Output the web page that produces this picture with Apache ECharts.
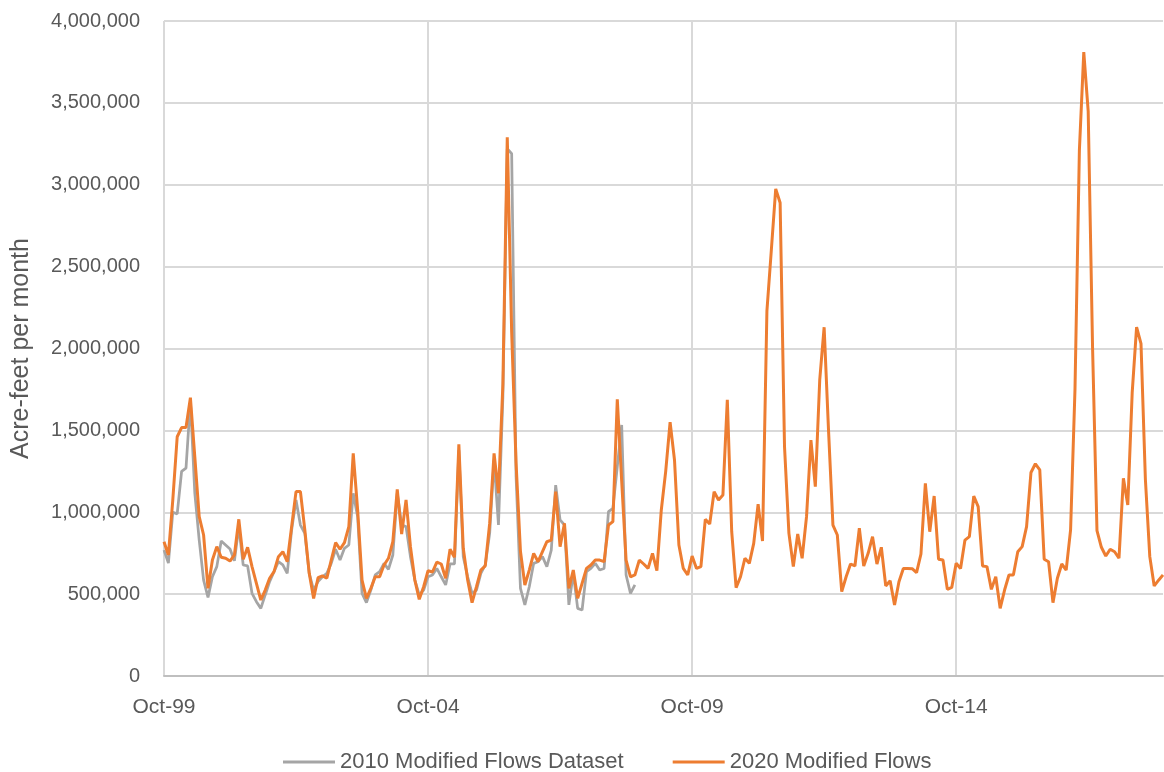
<!DOCTYPE html>
<html><head><meta charset="utf-8">
<script src="https://cdn.jsdelivr.net/npm/echarts@6/dist/echarts.min.js"></script>
<style>html,body{margin:0;padding:0;background:#fff}#c{width:1164px;height:772px}</style>
</head><body><div id="c"></div>
<script>
// Monthly categories Oct-1999 .. Sep-2018
const monthNames = ['Jan','Feb','Mar','Apr','May','Jun','Jul','Aug','Sep','Oct','Nov','Dec'];
const startYear = 1999, startMonth = 9, monthCount = 228;
const categories = [];
for (let i = 0; i < monthCount; i++) {
  const m = (startMonth + i) % 12, y = startYear + Math.floor((startMonth + i) / 12);
  categories.push(monthNames[m] + '-' + String(y % 100).padStart(2, '0'));
}
const tickLabels = ['Oct-99', 'Oct-04', 'Oct-09', 'Oct-14'];
const yTicks = [0, 500000, 1000000, 1500000, 2000000, 2500000, 3000000, 3500000, 4000000];

// 2010 Modified Flows Dataset (acre-feet per month), Oct-99 .. Sep-08
const flows2010 = [
  769000, 690000, 1000000, 990000, 1250000, 1270000, 1680000, 1117000, 830000, 586000,
  480000, 606000, 668000, 824000, 800000, 776000, 704000, 912000, 678000, 672000,
  505000, 454000, 413000, 495000, 576000, 637000, 698000, 678000, 627000, 892000,
  1075000, 922000, 871000, 627000, 525000, 576000, 606000, 627000, 688000, 774000,
  708000, 780000, 800000, 1116000, 973000, 505000, 448000, 525000, 617000, 637000,
  688000, 651000, 739000, 1116000, 922000, 912000, 729000, 586000, 495000, 525000,
  606000, 617000, 657000, 606000, 556000, 684000, 684000, 1380000, 729000, 606000,
  505000, 525000, 627000, 678000, 871000, 1320000, 922000, 1700000, 3220000, 3190000,
  1217000, 535000, 434000, 545000, 688000, 698000, 729000, 668000, 769000, 1166000,
  953000, 922000, 434000, 627000, 413000, 403000, 637000, 657000, 688000, 647000,
  657000, 1004000, 1024000, 1278000, 1533000, 617000, 505000, 556000
];

// 2020 Modified Flows (acre-feet per month), Oct-99 .. Sep-18
const flows2020 = [
  820000, 739000, 1075000, 1461000, 1517000, 1517000, 1700000, 1339000, 973000, 861000,
  535000, 708000, 790000, 725000, 719000, 702000, 739000, 957000, 713000, 786000,
  668000, 566000, 464000, 525000, 597000, 637000, 729000, 759000, 698000, 912000,
  1126000, 1126000, 892000, 627000, 474000, 600000, 611000, 597000, 708000, 814000,
  774000, 814000, 912000, 1360000, 1014000, 586000, 474000, 535000, 606000, 606000,
  678000, 719000, 820000, 1140000, 867000, 1075000, 790000, 586000, 468000, 545000,
  643000, 635000, 696000, 684000, 597000, 774000, 725000, 1415000, 780000, 586000,
  448000, 545000, 647000, 672000, 932000, 1360000, 1116000, 1780000, 3290000, 2100000,
  1300000, 760000, 556000, 647000, 749000, 698000, 759000, 820000, 830000, 1126000,
  790000, 932000, 535000, 647000, 474000, 566000, 657000, 678000, 708000, 708000,
  698000, 922000, 943000, 1690000, 1190000, 708000, 606000, 617000, 708000, 684000,
  657000, 749000, 643000, 1014000, 1250000, 1550000, 1319000, 800000, 657000, 617000,
  733000, 657000, 668000, 957000, 928000, 1126000, 1075000, 1105000, 1686000, 881000,
  539000, 606000, 719000, 688000, 810000, 1050000, 824000, 2230000, 2600000, 2975000,
  2890000, 1400000, 871000, 668000, 867000, 719000, 973000, 1441000, 1156000, 1808000,
  2130000, 1500000, 922000, 861000, 515000, 606000, 684000, 672000, 902000, 672000,
  749000, 851000, 684000, 786000, 550000, 582000, 434000, 576000, 657000, 657000,
  655000, 631000, 745000, 1177000, 881000, 1099000, 713000, 708000, 529000, 541000,
  688000, 657000, 830000, 851000, 1099000, 1034000, 672000, 668000, 529000, 606000,
  413000, 525000, 617000, 617000, 759000, 790000, 912000, 1243000, 1296000, 1259000,
  713000, 698000, 448000, 597000, 684000, 647000, 892000, 1750000, 3210000, 3810000,
  3450000, 2000000, 888000, 786000, 733000, 774000, 759000, 719000, 1207000, 1044000,
  1730000, 2130000, 2030000, 1200000, 729000, 550000, 585000, 617000
];

const seriesNames = ['2010 Modified Flows Dataset', '2020 Modified Flows'];
const FONT = 'Liberation Sans';
const TXT = '#595959';

const chart = echarts.init(document.getElementById('c'), null, {renderer: 'canvas'});
chart.setOption({
  animation: false,
  backgroundColor: '#ffffff',
  grid: {left: 164, right: 1, top: 21, bottom: 96, containLabel: false},
  legend: {
    data: seriesNames,
    left: 278, top: 746,
    icon: 'rect',
    itemWidth: 52, itemHeight: 3, itemGap: 49,
    textStyle: {fontFamily: FONT, fontSize: 22, color: TXT}
  },
  xAxis: {
    type: 'category',
    data: categories,
    boundaryGap: false,
    axisLine: {show: true, lineStyle: {color: '#bfbfbf', width: 2}},
    axisTick: {show: false},
    axisLabel: {
      interval: (idx, val) => tickLabels.indexOf(val) >= 0,
      fontFamily: FONT, fontSize: 21, color: TXT, margin: 21
    },
    splitLine: {
      show: true,
      interval: (idx, val) => tickLabels.indexOf(val) >= 0,
      lineStyle: {color: '#d9d9d9', width: 2}
    }
  },
  yAxis: {
    type: 'value',
    min: yTicks[0], max: yTicks[yTicks.length - 1], interval: 500000,
    name: 'Acre-feet per month',
    nameLocation: 'middle', nameRotate: 90, nameGap: 130,
    nameTextStyle: {fontFamily: FONT, fontSize: 25, color: TXT},
    axisLine: {show: false},
    axisTick: {show: false},
    axisLabel: {
      fontFamily: FONT, fontSize: 20, color: TXT, margin: 24,
      formatter: v => v.toLocaleString('en-US')
    },
    splitLine: {show: true, lineStyle: {color: '#d9d9d9', width: 2}}
  },
  series: [
    {name: seriesNames[0], type: 'line', data: flows2010, symbol: 'none',
     lineStyle: {color: '#a5a5a5', width: 2.75}, itemStyle: {color: '#a5a5a5'}, z: 2},
    {name: seriesNames[1], type: 'line', data: flows2020, symbol: 'none',
     lineStyle: {color: '#ed7d31', width: 3}, itemStyle: {color: '#ed7d31'}, z: 3}
  ]
});
</script></body></html>
